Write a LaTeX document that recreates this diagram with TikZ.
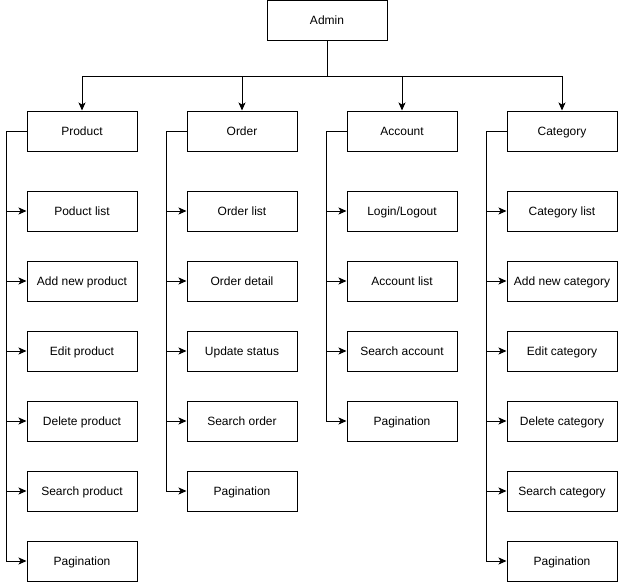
\documentclass[tikz,border=0pt]{standalone}
\usepackage{fontspec}
\setmainfont{Liberation Sans}
\usetikzlibrary{arrows.meta, positioning}

\begin{document}
\begin{tikzpicture}[
  x=1pt, y=-1pt,
  font=\fontsize{12}{14}\selectfont,
  every node/.style={align=center},
  box/.style={draw, line width=1pt, minimum width=110pt, minimum height=40pt,
              inner sep=0pt, text height=8.6pt, text depth=0pt},
  link/.style={line width=1pt, -{Stealth[length=8pt, width=7pt, inset=2pt]}}
]

%% Parameters
\def\gap{20}   % distance of side rail from box
\def\busy{76}  % y-position of admin bus

\useasboundingbox (0,0) rectangle (618,582);

%% ---- Root ----
\node[box, minimum width=120pt] (admin) at (327,20) {Admin};
\coordinate (bus) at (327,\busy);
\draw[line width=1pt] (admin.south) -- (bus);

%% ---- Module heads ----
\node[box] (prod) at (82,131)  {Product};
\node[box] (ord)  at (242,131) {Order};
\node[box] (acc)  at (402,131) {Account};
\node[box] (cat)  at (562,131) {Category};

\foreach \m in {prod, ord, acc, cat}{
  \draw[link] (bus) -| (\m.north);
}

%% ---- Product functions ----
\foreach \t [count=\i] in {Poduct list, Add new product, Edit product,
                           Delete product, Search product, Pagination}{
  \node[box] (prod\i) at (82,141+70*\i) {\t};
  \draw[link] (prod.west) -- ++(-\gap,0) |- (prod\i.west);
}

%% ---- Order functions ----
\foreach \t [count=\i] in {Order list, Order detail, Update status,
                           Search order, Pagination}{
  \node[box] (ord\i) at (242,141+70*\i) {\t};
  \draw[link] (ord.west) -- ++(-\gap,0) |- (ord\i.west);
}

%% ---- Account functions ----
\foreach \t [count=\i] in {Login/Logout, Account list, Search account,
                           Pagination}{
  \node[box] (acc\i) at (402,141+70*\i) {\t};
  \draw[link] (acc.west) -- ++(-\gap,0) |- (acc\i.west);
}

%% ---- Category functions ----
\foreach \t [count=\i] in {Category list, Add new category, Edit category,
                           Delete category, Search category, Pagination}{
  \node[box] (cat\i) at (562,141+70*\i) {\t};
  \draw[link] (cat.west) -- ++(-\gap,0) |- (cat\i.west);
}

\end{tikzpicture}
\end{document}
